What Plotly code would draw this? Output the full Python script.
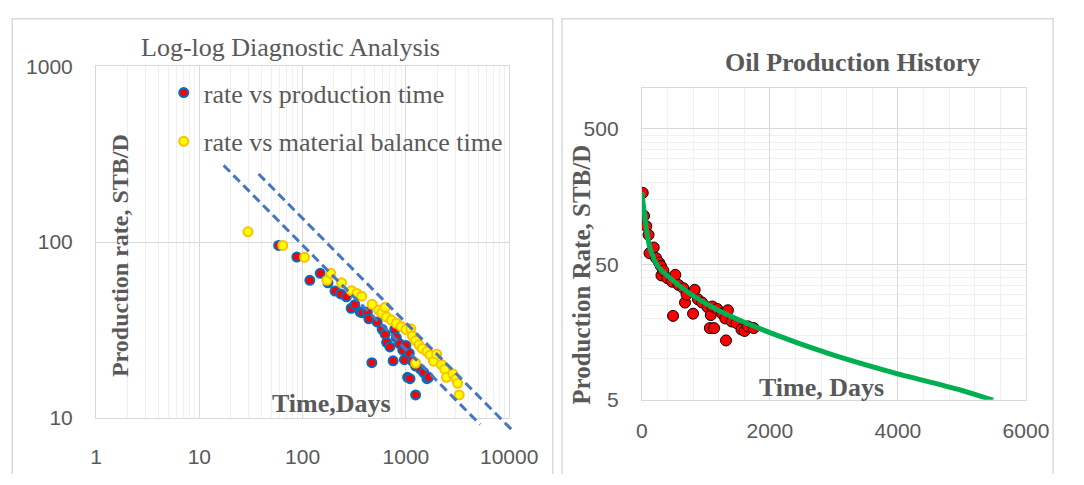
import plotly.graph_objects as go

W, H = 1084, 485

# ---- Log-log diagnostic data ----
prod_time_days = [58.6, 87.9, 117.5, 148, 176, 206, 234, 265, 295, 321, 361, 379, 423, 438, 468,
                  526, 589, 629, 650, 700, 752, 780, 807, 868, 933, 968, 1001, 1038, 1077, 1096,
                  1157, 1242, 1242, 1384, 1489, 1599, 1660]
prod_rate_stbd = [95.7, 82.1, 60.6, 66.4, 58.6, 52.6, 50.7, 48.8, 42.0, 44.0, 40.0, 39.6, 40.0, 36.6, 20.6,
                  35.1, 31.9, 29.9, 26.9, 25.3, 21.1, 31.8, 28.6, 26.4, 24.3, 21.4, 25.8, 17.0, 23.3, 16.7,
                  21.0, 19.7, 13.5, 18.9, 18.1, 16.7, 17.0]

mb_time_days = [29.6, 64.3, 104.4, 172, 187, 238, 297, 336, 373, 471, 544, 584, 629, 650, 724,
                807, 899, 1001, 1115, 1157, 1242, 1242, 1336, 1435, 1599, 1717, 1847, 1983, 2208,
                2372, 2461, 2844, 3053, 3168, 3279]
mb_rate_stbd = [114.4, 95.7, 81.9, 60.6, 66.4, 58.6, 52.9, 51.0, 49.2, 44.2, 41.0, 39.5, 42.5, 37.5, 36.0,
                34.5, 33.1, 31.8, 32.1, 29.2, 27.5, 20.5, 26.0, 24.8, 23.8, 22.8, 21.0, 23.0, 20.1,
                18.9, 17.0, 17.8, 16.7, 15.7, 13.5]

# Boundary trend lines on the log-log plot
trend_lower_time = [17.2, 5236]
trend_lower_rate = [273, 9.16]
trend_upper_time = [37.5, 10900]
trend_upper_rate = [244, 8.4]

# ---- Oil production history ----
hist_time_days = [15, 35, 71, 106, 121, 186, 222, 272, 298, 307, 337, 398, 473, 488, 524, 574, 650,
                  675, 700, 801, 826, 877, 942, 1028, 1063, 1078, 1103, 1129, 1179, 1254, 1304, 1315,
                  1345, 1405, 1481, 1557, 1607, 1658, 1749]
hist_rate_stbd = [168.7, 114, 95.6, 82.6, 60.4, 66.6, 55.7, 51.4, 48.6, 41.4, 44.9, 39.6, 37.2, 20.8,
                  41.8, 35.2, 33.3, 26.1, 29.9, 21.6, 32.4, 27.6, 26.1, 24.1, 16.9, 21.1, 24.4, 16.9,
                  23.4, 21.6, 19.9, 13.7, 22.9, 18.9, 18.4, 16.5, 16.1, 17.4, 16.9]

# Decline curve fit
fit_time_days = [0, 56, 121, 242, 453, 756, 1103, 1511, 2010, 2887, 3899, 4927, 5486]
fit_rate_stbd = [170, 104, 68.0, 49.2, 39.2, 30.3, 24.1, 19.5, 15.6, 11.1, 8.0, 5.98, 4.96]

# Axis ticks
loglog_x_ticks = [1, 10, 100, 1000, 10000]
loglog_y_ticks = [10, 100, 1000]
hist_x_ticks = [0, 2000, 4000, 6000]
hist_y_ticks = [5, 50, 500]

GRID = "#D9D9D9"
MINOR = "#F0F0F0"
TXT = "#595959"
SERIF = "Liberation Serif, Times New Roman, serif"
SANS = "Liberation Sans, Arial, sans-serif"


def fx(p):
    return p / W


def fy(p):
    return 1 - p / H


fig = go.Figure()

# rate vs production time
fig.add_trace(go.Scatter(
    x=prod_time_days, y=prod_rate_stbd, mode="markers", name="rate vs production time",
    marker=dict(size=9, color="#FF0000", line=dict(color="#0070C0", width=2)),
    xaxis="x", yaxis="y", legendgroup="a"))
# rate vs material balance time
fig.add_trace(go.Scatter(
    x=mb_time_days, y=mb_rate_stbd, mode="markers", name="rate vs material balance time",
    marker=dict(size=9, color="#FFFF00", line=dict(color="#FFC000", width=2)),
    xaxis="x", yaxis="y", legendgroup="b"))

# dashed boundary lines (drawn on a slightly larger frame so they run past the grid)
for tx, ty in ((trend_lower_time, trend_lower_rate), (trend_upper_time, trend_upper_rate)):
    fig.add_trace(go.Scatter(
        x=tx, y=ty, mode="lines", showlegend=False, hoverinfo="skip",
        line=dict(color="#4677BE", width=3, dash="9px,5px"),
        xaxis="x3", yaxis="y3"))

# production history and decline fit
fig.add_trace(go.Scatter(
    x=hist_time_days, y=hist_rate_stbd, mode="markers", showlegend=False,
    marker=dict(size=11, color="#FF0000", line=dict(color="#000000", width=1)),
    xaxis="x2", yaxis="y2"))
fig.add_trace(go.Scatter(
    x=fit_time_days, y=fit_rate_stbd, mode="lines", showlegend=False,
    line=dict(color="#00B050", width=5, shape="spline", smoothing=0.8),
    xaxis="x2", yaxis="y2"))

tickfont = dict(family=SANS, size=21, color=TXT)

loglog_minor_x = [k * 10 ** n for n in range(4) for k in range(2, 10)]
hist_minor_y = [5 * k for k in range(2, 10)] + [50 * k for k in range(2, 10)] + [1000]

fig.update_layout(
    width=W, height=H,
    margin=dict(l=0, r=0, t=0, b=0),
    paper_bgcolor="white", plot_bgcolor="rgba(0,0,0,0)",
    showlegend=True,
    legend=dict(x=fx(163), y=fy(60), xanchor="left", yanchor="top",
                font=dict(family=SERIF, size=26, color=TXT),
                bgcolor="rgba(0,0,0,0)", traceorder="grouped", tracegroupgap=12,
                itemsizing="trace"),
    xaxis=dict(type="log", domain=[fx(93), fx(520)], range=[0, 4], anchor="y",
               tickvals=loglog_x_ticks, ticktext=[str(v) for v in loglog_x_ticks],
               tickfont=tickfont, ticks="", ticklabelstandoff=20,
               showgrid=True, gridcolor=GRID, gridwidth=1,
               minor=dict(tickmode="array", tickvals=loglog_minor_x, showgrid=True,
                          gridcolor=MINOR, gridwidth=1, ticks=""),
               showline=True, linecolor=GRID, linewidth=1, mirror=True, zeroline=False),
    yaxis=dict(type="log", domain=[fy(426), fy(57)], range=[1, 3], anchor="x",
               tickvals=loglog_y_ticks, ticktext=[str(v) for v in loglog_y_ticks],
               tickfont=tickfont, ticks="", ticklabelstandoff=18,
               showgrid=True, gridcolor=GRID, gridwidth=1,
               showline=True, linecolor=GRID, linewidth=1, mirror=True, zeroline=False),
    xaxis3=dict(type="log", domain=[fx(93), fx(530)], range=[0, 4 + 10 / 106.75], anchor="y3",
                visible=False, showgrid=False),
    yaxis3=dict(type="log", domain=[fy(445), fy(57)], range=[3 - 388 / 184.5, 3], anchor="x3",
                visible=False, showgrid=False),
    xaxis2=dict(domain=[fx(657), fx(1054)], range=[0, 6000], anchor="y2",
                tickvals=hist_x_ticks, tickfont=tickfont, ticks="", ticklabelstandoff=12,
                showgrid=True, gridcolor=GRID, gridwidth=1,
                minor=dict(dtick=400, showgrid=True, gridcolor=MINOR, gridwidth=1, ticks=""),
                showline=True, linecolor=GRID, linewidth=1, mirror=True, zeroline=False),
    yaxis2=dict(type="log", domain=[fy(407), fy(80)], range=[0.69897, 3], anchor="x2",
                tickvals=hist_y_ticks, ticktext=[str(v) for v in hist_y_ticks],
                tickfont=tickfont, ticks="", ticklabelstandoff=18,
                showgrid=True, gridcolor=GRID, gridwidth=1,
                minor=dict(tickmode="array", tickvals=hist_minor_y, showgrid=True,
                           gridcolor=MINOR, gridwidth=1, ticks=""),
                showline=True, linecolor=GRID, linewidth=1, mirror=True, zeroline=False),
)

# chart frames: open at the bottom edge of the page
for x0, x1 in ((6.5, 565), (574.5, 1082)):
    fig.add_shape(type="path", xref="paper", yref="paper",
                  path=f"M {fx(x0)} 0 L {fx(x0)} {fy(7)} L {fx(x1)} {fy(7)} L {fx(x1)} 0",
                  line=dict(color="#D9D9D9", width=1.5), layer="below")

notes = [
    ("Log-log Diagnostic Analysis", 294.5, 37, 0, False, 26),
    ("Oil Production History", 874.5, 52.5, 0, True, 26),
    ("Time,Days", 336, 411, 0, True, 26),
    ("Production rate, STB/D", 118, 256, -90, True, 24),
    ("Time, Days", 843, 394, 0, True, 26),
    ("Production Rate, STB/D", 595, 276, -90, True, 25),
]
for text, px, py, ang, bold, size in notes:
    fig.add_annotation(
        text=f"<b>{text}</b>" if bold else text, x=fx(px), y=fy(py),
        xref="paper", yref="paper", xanchor="center", yanchor="middle",
        showarrow=False, textangle=ang,
        font=dict(family=SERIF, size=size, color=TXT))

# keep the figure flush with the page edges
fig.write_html("out.html",
               post_script="document.body.style.margin='0';document.body.style.overflow='hidden';")
